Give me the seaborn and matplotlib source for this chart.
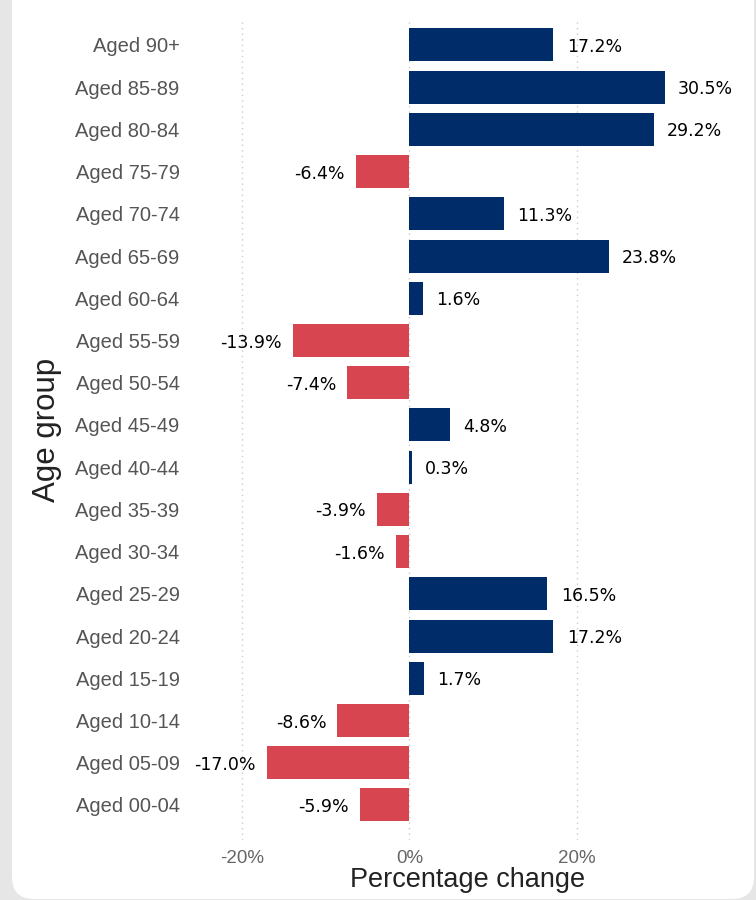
import pandas as pd
import seaborn as sns
import matplotlib.pyplot as plt
from matplotlib.patches import FancyBboxPatch
from matplotlib.transforms import IdentityTransform

# ========== DATA ==========

age_groups = [
    "Aged 90+", "Aged 85-89", "Aged 80-84", "Aged 75-79", "Aged 70-74",
    "Aged 65-69", "Aged 60-64", "Aged 55-59", "Aged 50-54", "Aged 45-49",
    "Aged 40-44", "Aged 35-39", "Aged 30-34", "Aged 25-29", "Aged 20-24",
    "Aged 15-19", "Aged 10-14", "Aged 05-09", "Aged 00-04",
]
pct_change = [
    17.2, 30.5, 29.2, -6.4, 11.3,
    23.8, 1.6, -13.9, -7.4, 4.8,
    0.3, -3.9, -1.6, 16.5, 17.2,
    1.7, -8.6, -17.0, -5.9,
]
x_ticks = [-20, 0, 20]
x_ticklabels = ["-20%", "0%", "20%"]

POS_COLOR = "#002D6A"
NEG_COLOR = "#D64550"

df = pd.DataFrame({"age": age_groups, "change": pct_change})
df["sign"] = ["up" if v >= 0 else "down" for v in df["change"]]

# ========== PLOT ==========

sns.set_style("white")
plt.rcParams["font.family"] = ["Liberation Sans", "DejaVu Sans"]

W, H = 756, 900
fig = plt.figure(figsize=(W / 100, H / 100), dpi=100)
fig.patch.set_facecolor("#E6E6E6")

# white card with rounded corners, drawn in pixel coordinates
card = FancyBboxPatch((12, 1), 754 - 12, 950,
                      boxstyle="round,pad=0,rounding_size=22",
                      facecolor="white", edgecolor="none", zorder=-5)
card.set_transform(IdentityTransform())
fig.patches.append(card)

ax = fig.add_axes([195 / W, 1 - 840 / H, (740 - 195) / W, (840 - 20) / H])
ax.set_facecolor("none")

sns.barplot(data=df, x="change", y="age", hue="sign", order=age_groups,
            palette={"up": POS_COLOR, "down": NEG_COLOR}, width=0.78,
            dodge=False, legend=False, saturation=1, ax=ax)

for patch in ax.patches:
    patch.set_edgecolor("none")

ax.set_xlim(-25.6, 39.5)
ax.set_ylim(len(age_groups) - 1 + 0.83, -0.59)

for x in x_ticks:
    ax.axvline(x, color="#CCCCCC", linestyle=(0, (1, 3)), linewidth=1, zorder=0)

# value labels
for i, v in enumerate(pct_change):
    if v >= 0:
        ax.text(v + 1.6, i + 0.05, f"{v:.1f}%", ha="left", va="center",
                fontsize=12.5, family="DejaVu Sans", color="black")
    else:
        ax.text(v - 1.3, i + 0.05, f"{v:.1f}%", ha="right", va="center",
                fontsize=12.5, family="DejaVu Sans", color="black")

ax.set_xticks(x_ticks)
ax.set_xticklabels(x_ticklabels, color="#666666", fontsize=13.5)
ax.tick_params(axis="y", labelsize=14.5, labelcolor="#555555", length=0, pad=11)
ax.tick_params(axis="x", length=0, pad=7)

ax.set_xlabel("Percentage change", fontsize=19.5, color="#222222", labelpad=0)
ax.set_ylabel("Age group", fontsize=22.5, color="#222222", labelpad=10)

sns.despine(ax=ax, left=True, bottom=True)

fig.savefig("out.png", dpi=100, facecolor=fig.get_facecolor())
